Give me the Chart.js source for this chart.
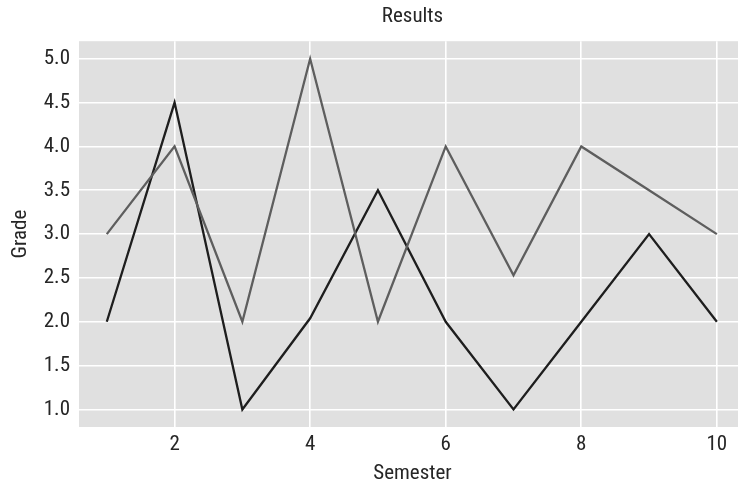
<!DOCTYPE html>
<html>
<head>
<meta charset="utf-8">
<script src="https://cdn.jsdelivr.net/npm/chart.js@4/dist/chart.umd.min.js"></script>
<style>
html,body{margin:0;padding:0;background:#ffffff;}
canvas{display:block;}
</style>
</head>
<body>
<canvas id="c" width="738" height="486"></canvas>
<script>
const semesters = [1, 2, 3, 4, 5, 6, 7, 8, 9, 10];
const seriesGray = [3, 4, 2, 5, 2, 4, 2.53, 4, 3.5, 3];
const seriesBlack = [2, 4.5, 1, 2.04, 3.5, 2, 1, 2, 3, 2];
const xTicks = [2, 4, 6, 8, 10];
const yTicks = [1.0, 1.5, 2.0, 2.5, 3.0, 3.5, 4.0, 4.5, 5.0];
const titleText = 'Results';
const xTitle = 'Semester';
const yTitle = 'Grade';

const FONT = "'Roboto Condensed', 'Roboto', sans-serif";
const TXT = '#262626';
const FS = 21;
const PANEL_OVERHANG = 8; // panel continues past the right edge of the picture

const panelBg = {
  id: 'panelBg',
  afterLayout(chart) {
    const ext = PANEL_OVERHANG;
    const xs = chart.scales.x;
    xs.right += ext;
    xs.width += ext;
    xs.configure();
    chart.chartArea.right += ext;
    chart.chartArea.width += ext;
    if (chart.titleBlock) {
      chart.titleBlock.right += ext;
      chart.titleBlock.width += ext;
    }
  },
  beforeDraw(chart) {
    const {ctx, chartArea: a} = chart;
    ctx.save();
    ctx.fillStyle = '#e0e0e0';
    ctx.fillRect(a.left, a.top, a.right - a.left, a.bottom - a.top);
    ctx.restore();
  }
};

const toPts = arr => semesters.map((s, i) => ({x: s, y: arr[i]}));

new Chart(document.getElementById('c'), {
  type: 'line',
  data: {
    datasets: [
      {data: toPts(seriesGray), borderColor: '#5e5e5e', borderWidth: 2.3, pointRadius: 0, tension: 0, fill: false},
      {data: toPts(seriesBlack), borderColor: '#1e1e1e', borderWidth: 2.3, pointRadius: 0, tension: 0, fill: false}
    ]
  },
  options: {
    responsive: false,
    animation: false,
    layout: {padding: 0},
    plugins: {
      legend: {display: false},
      tooltip: {enabled: false},
      title: {
        display: true,
        fullSize: false,
        text: titleText,
        color: TXT,
        font: {family: FONT, size: FS, weight: 'normal'},
        padding: {top: 4, bottom: 12}
      }
    },
    scales: {
      x: {
        type: 'linear',
        min: 0.59,
        max: 10.43,
        afterFit(s) { s.height = 59; },
        afterBuildTicks(s) { s.ticks = xTicks.map(v => ({value: v})); },
        ticks: {color: TXT, font: {family: FONT, size: FS}, padding: 5, maxRotation: 0, includeBounds: false,
                callback: v => String(v)},
        grid: {color: '#ffffff', lineWidth: 1.6, drawTicks: false},
        border: {display: false},
        title: {display: true, text: xTitle, color: TXT, font: {family: FONT, size: FS}, padding: {top: 0, bottom: 0}}
      },
      y: {
        type: 'linear',
        min: 0.8,
        max: 5.2,
        afterFit(s) { s.width = 79; },
        afterBuildTicks(s) { s.ticks = yTicks.map(v => ({value: v})); },
        ticks: {color: TXT, font: {family: FONT, size: FS}, padding: 9, includeBounds: false,
                callback: v => Number(v).toFixed(1)},
        grid: {color: '#ffffff', lineWidth: 1.6, drawTicks: false},
        border: {display: false},
        title: {display: true, text: yTitle, color: TXT, font: {family: FONT, size: FS}, padding: {top: 8, bottom: 8}}
      }
    }
  },
  plugins: [panelBg]
});
</script>
</body>
</html>
